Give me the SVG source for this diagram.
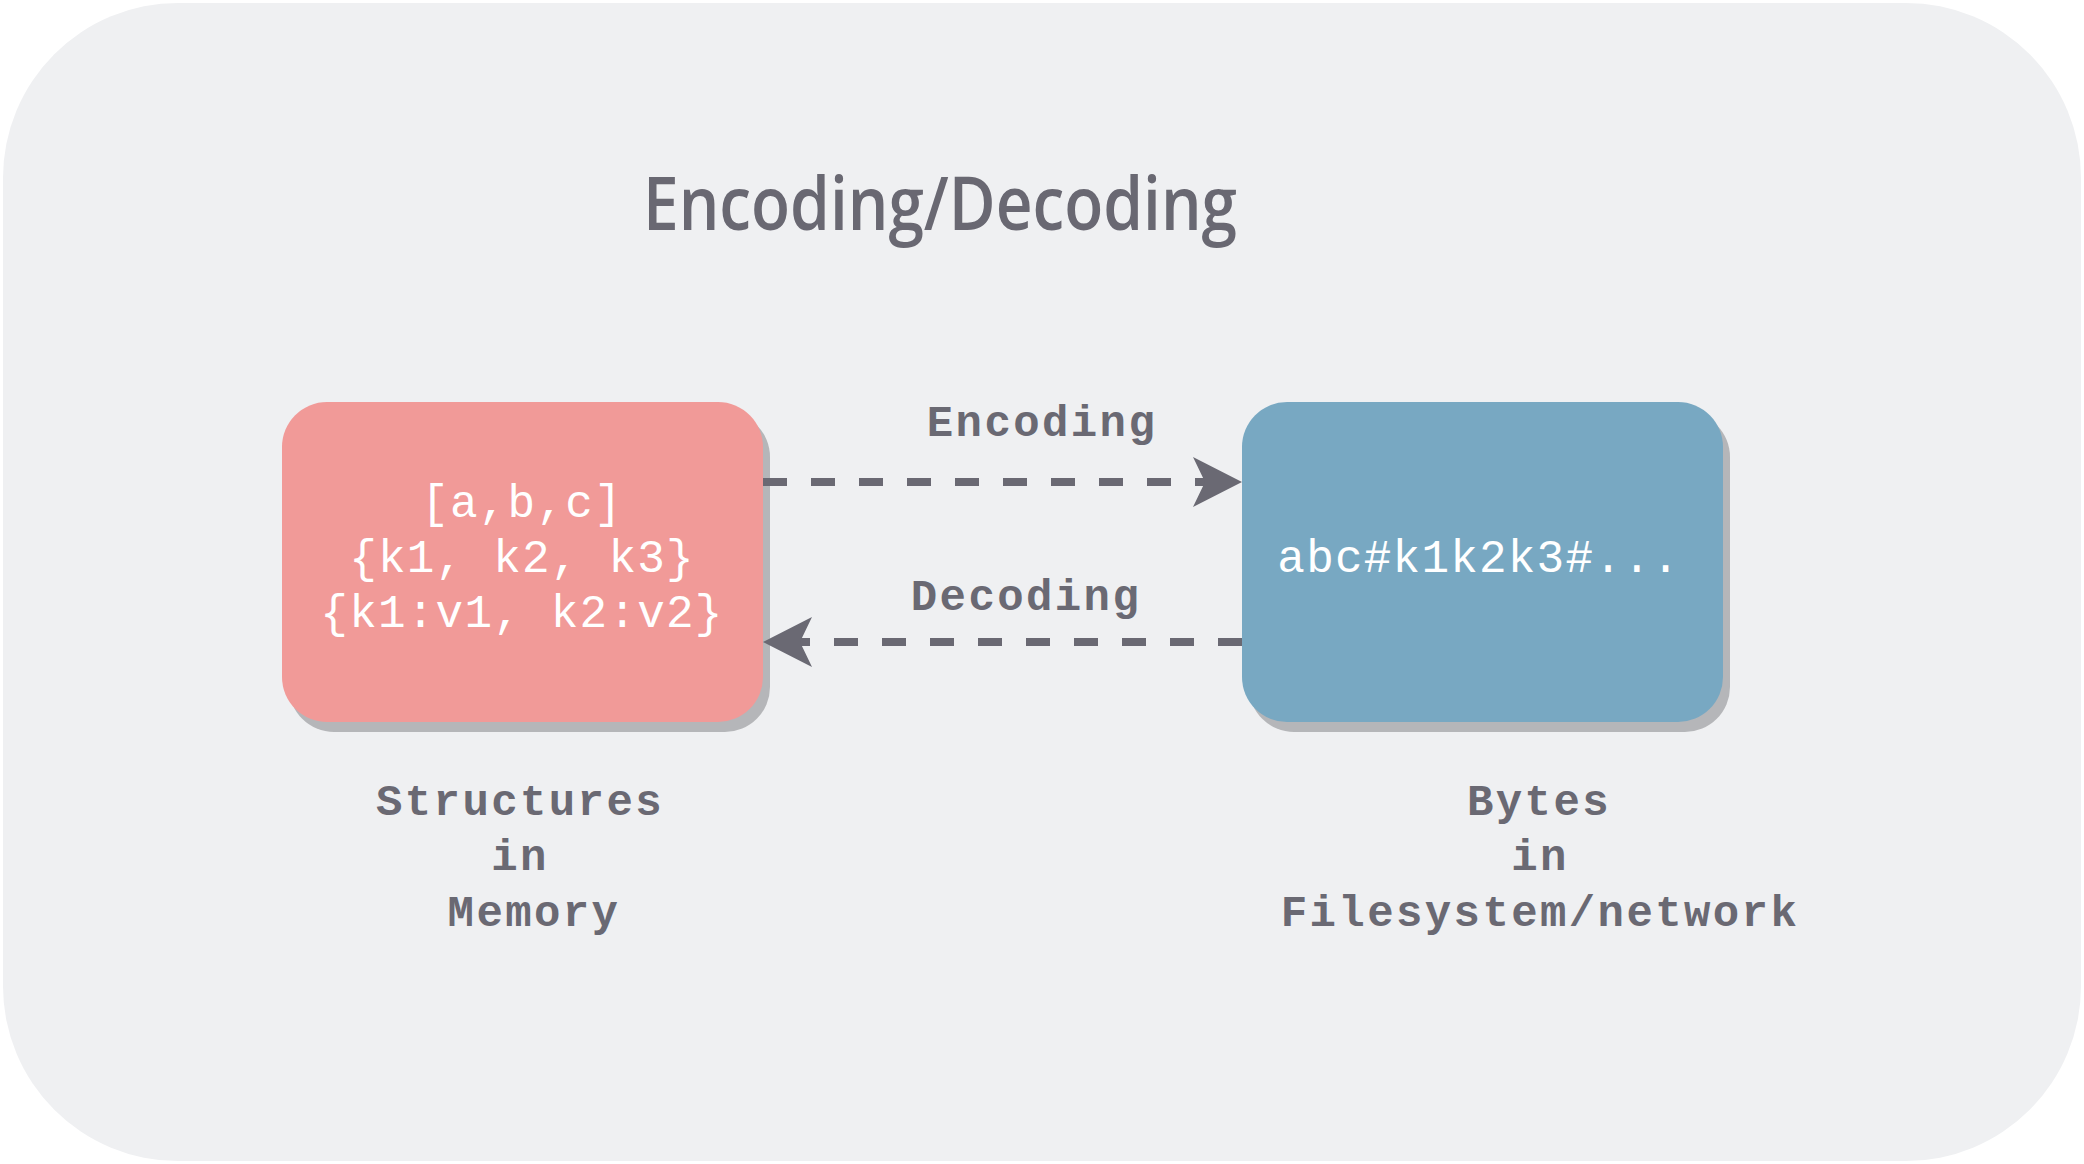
<svg xmlns="http://www.w3.org/2000/svg" width="2084" height="1164" viewBox="0 0 2084 1164">
  <style>
    .bg { fill: #eff0f2; }
    .shadow { fill: #b5b6b9; }
    .pink { fill: #f19a98; }
    .blue { fill: #78a8c2; }
    .title { font-family: 'Open Sans', sans-serif; font-size: 74px; font-weight: 600; fill: #696872; text-anchor: middle; }
    .node-text { font-family: 'Liberation Mono', monospace; font-size: 46px; letter-spacing: 1.2px; fill: #ffffff; text-anchor: middle; }
    .label { font-family: 'Liberation Mono', monospace; font-size: 44px; font-weight: bold; letter-spacing: 2.4px; fill: #6a6973; text-anchor: middle; }
    .conn { fill: none; stroke: #6a6973; stroke-width: 8; stroke-dasharray: 24 24; stroke-linecap: butt; }
  </style>
  <defs>
    <marker id="arrow" viewBox="0 0 49 50" refX="12" refY="25" markerWidth="49" markerHeight="50" markerUnits="userSpaceOnUse" orient="auto">
      <path d="M0,0 L49,25 L0,50 L12,25 Z" fill="#6a6973"/>
    </marker>
  </defs>

  <rect id="background" class="bg" x="3" y="3" width="2078" height="1158" rx="175" ry="175"/>

  <text id="title" class="title" x="940" y="230" textLength="594" lengthAdjust="spacingAndGlyphs">Encoding/Decoding</text>

  <g id="node-structures">
    <rect class="shadow" x="289" y="412" width="481" height="320" rx="45" ry="45"/>
    <rect class="pink" x="282" y="402" width="481" height="320" rx="45" ry="45"/>
    <text class="node-text" x="522" y="517">[a,b,c]</text>
    <text class="node-text" x="522" y="572">{k1, k2, k3}</text>
    <text class="node-text" x="522" y="627">{k1:v1, k2:v2}</text>
  </g>

  <g id="node-bytes">
    <rect class="shadow" x="1249" y="412" width="481" height="320" rx="45" ry="45"/>
    <rect class="blue" x="1242" y="402" width="481" height="320" rx="45" ry="45"/>
    <text class="node-text" x="1479" y="572">abc#k1k2k3#...</text>
  </g>

  <g id="connectors">
    <line id="edge-encoding" class="conn" x1="763" y1="482" x2="1205" y2="482" marker-end="url(#arrow)"/>
    <line id="edge-decoding" class="conn" x1="1242" y1="642" x2="800" y2="642" marker-end="url(#arrow)"/>
    <text class="label" x="1042" y="436">Encoding</text>
    <text class="label" x="1026" y="610">Decoding</text>
  </g>

  <g id="caption-left">
    <text class="label" x="520" y="815">Structures</text>
    <text class="label" x="520" y="870">in</text>
    <text class="label" x="534" y="926">Memory</text>
  </g>

  <g id="caption-right">
    <text class="label" x="1539" y="815">Bytes</text>
    <text class="label" x="1540" y="870">in</text>
    <text class="label" x="1540" y="926">Filesystem/network</text>
  </g>
</svg>
